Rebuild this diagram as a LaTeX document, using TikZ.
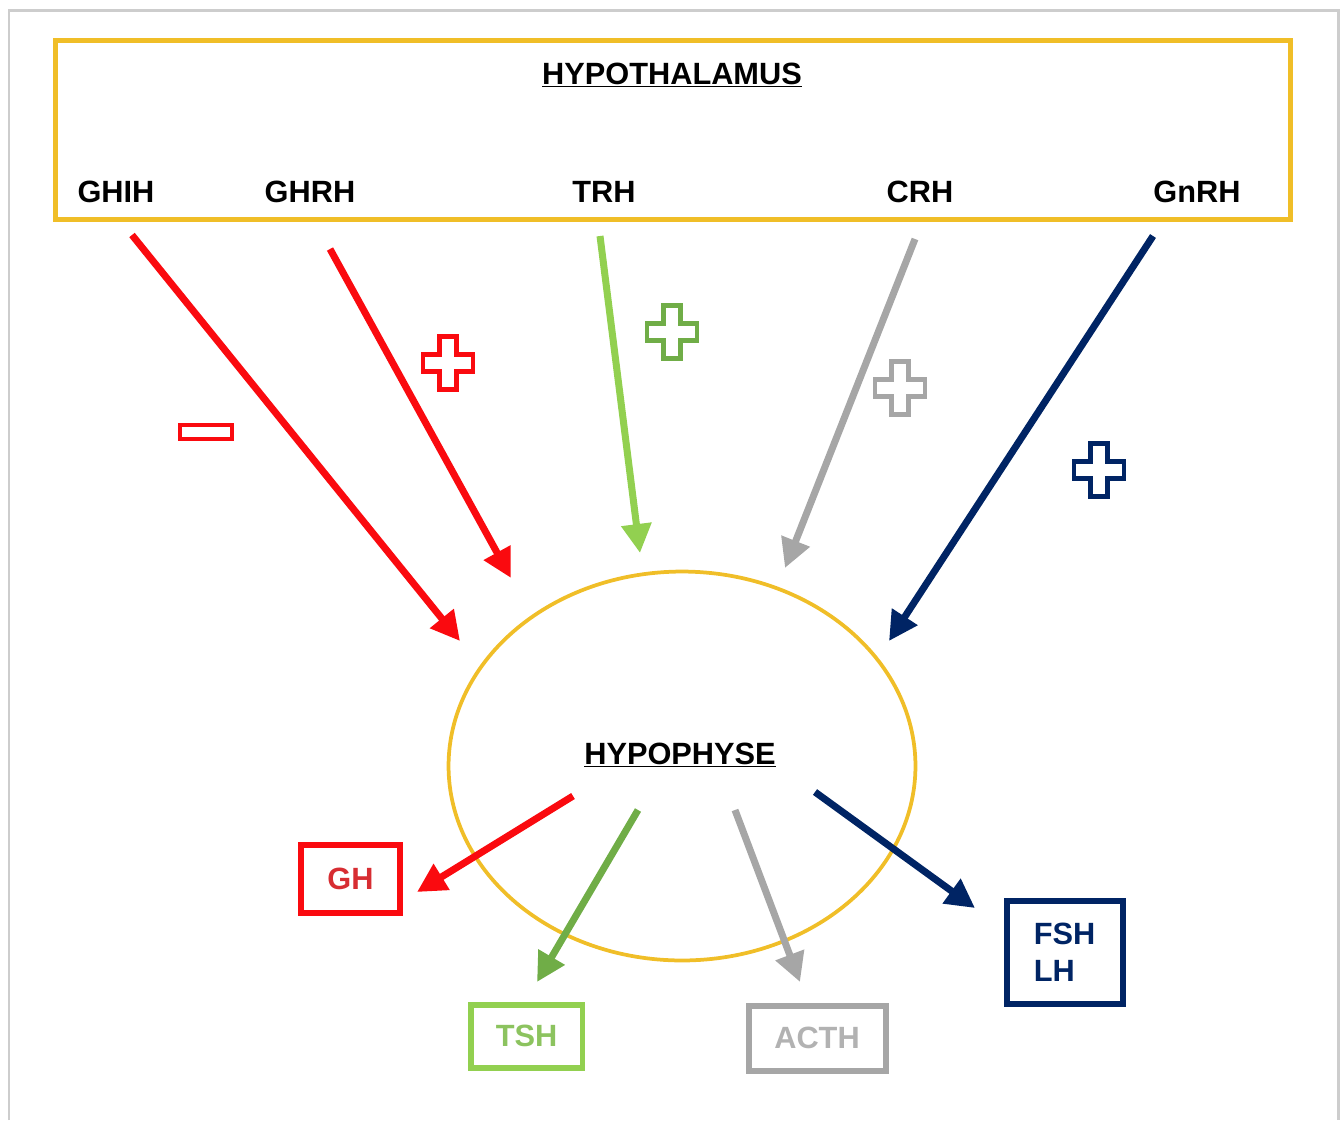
\documentclass[tikz,border=0pt]{standalone}
\usepackage{fontspec}
\setmainfont{Liberation Sans}
\usetikzlibrary{arrows.meta, positioning, shapes.geometric}
\definecolor{hypoyellow}{RGB}{240,190,40}
\definecolor{hypored}{RGB}{250,10,15}
\definecolor{ghtext}{RGB}{215,45,50}
\definecolor{trhgreen}{RGB}{146,208,80}
\definecolor{tshgreen}{RGB}{112,173,71}
\definecolor{tshtext}{RGB}{140,195,95}
\definecolor{crhgray}{RGB}{166,166,166}
\definecolor{acthtext}{RGB}{178,178,178}
\definecolor{gnrhnavy}{RGB}{0,36,100}
\definecolor{framegray}{RGB}{205,205,205}
\tikzset{>={Triangle[length=0.58cm, width=0.58cm]},
  pics/plussign/.style={code={
    \draw[line width=0.09cm] (-8.5,-26.5) -- (8.5,-26.5) -- (8.5,-8.5) -- (25,-8.5) -- (25,8.5) -- (8.5,8.5)
      -- (8.5,26.5) -- (-8.5,26.5) -- (-8.5,8.5) -- (-25,8.5) -- (-25,-8.5) -- (-8.5,-8.5) -- cycle;}}}

\begin{document}
\begin{tikzpicture}[x=0.02cm, y=-0.02cm,
  hormone/.style={font=\fontsize{17.5}{21}\selectfont\bfseries, anchor=base, inner sep=0pt},
  signal/.style={->, line width=0.14cm},
  target/.style={rectangle, line width=0.12cm, inner sep=0pt, font=\fontsize{17.5}{21}\selectfont\bfseries}]
    \useasboundingbox (0,0) rectangle (1344,1120);
    \draw[framegray, line width=0.06cm] (9,1120) |- (1338,10) -- (1338,1120);

    % hypothalamus and its hormones
    \node[draw=hypoyellow, line width=0.1cm, minimum width=24.72cm, minimum height=3.6cm] (hypothalamus) at (673,130) {};
    \node[hormone] (hypothalamus-title) at (672,84) {\underline{HYPOTHALAMUS}};
    \node[hormone] (ghih) at (116,202) {GHIH};
    \node[hormone] (ghrh) at (310,202) {GHRH};
    \node[hormone] (trh) at (604,202) {TRH};
    \node[hormone] (crh) at (920,202) {CRH};
    \node[hormone] (gnrh) at (1197,202) {GnRH};

    % hypophyse
    \node[draw=hypoyellow, line width=0.075cm, ellipse, minimum width=9.34cm, minimum height=7.78cm] (hypophyse) at (682,766) {};
    \node[hormone] (hypophyse-title) at (680,764) {\underline{HYPOPHYSE}};

    \node[target, draw=hypored, text=ghtext, minimum width=2cm, minimum height=1.36cm] (gh) at (350.5,878.5) {GH};
    \node[target, draw=trhgreen, text=tshtext, minimum width=2.24cm, minimum height=1.26cm] (tsh) at (526.5,1036) {TSH};
    \node[target, draw=crhgray, text=acthtext, minimum width=2.74cm, minimum height=1.3cm] (acth) at (817,1038) {ACTH};
    \node[target, draw=gnrhnavy, text=gnrhnavy, align=left, minimum width=2.32cm, minimum height=2.06cm] (fsh) at (1064.5,952) {FSH\\LH};

    % releasing hormones
    \coordinate (ghih-out) at (132,235);
    \coordinate (ghih-in) at (460,641);
    \coordinate (ghrh-out) at (330,249);
    \coordinate (ghrh-in) at (511,578);
    \coordinate (trh-out) at (600,236);
    \coordinate (trh-in) at (640,553);
    \coordinate (crh-out) at (915,239);
    \coordinate (crh-in) at (785,568);
    \coordinate (gnrh-out) at (1153,236);
    \coordinate (gnrh-in) at (889,641);
    \draw[signal, hypored] (ghih-out) -- (ghih-in);
    \draw[signal, hypored] (ghrh-out) -- (ghrh-in);
    \draw[signal, trhgreen] (trh-out) -- (trh-in);
    \draw[signal, crhgray] (crh-out) -- (crh-in);
    \draw[signal, gnrhnavy] (gnrh-out) -- (gnrh-in);

    \draw[hypored, line width=0.09cm] (180,425) rectangle (232,439);
    \pic[hypored] at (448,363) {plussign};
    \pic[tshgreen] at (672,332) {plussign};
    \pic[crhgray] at (900,388) {plussign};
    \pic[gnrhnavy] at (1099,470) {plussign};

    % stimulated hormones
    \coordinate (gh-out) at (573,796);
    \coordinate (gh-in) at (417,892);
    \coordinate (tsh-out) at (638,810);
    \coordinate (tsh-in) at (537,982);
    \coordinate (acth-out) at (735,810);
    \coordinate (acth-in) at (800,982);
    \coordinate (fsh-out) at (815,792);
    \coordinate (fsh-in) at (975,908);
    \draw[signal, hypored] (gh-out) -- (gh-in);
    \draw[signal, tshgreen] (tsh-out) -- (tsh-in);
    \draw[signal, crhgray] (acth-out) -- (acth-in);
    \draw[signal, gnrhnavy] (fsh-out) -- (fsh-in);
\end{tikzpicture}
\end{document}
